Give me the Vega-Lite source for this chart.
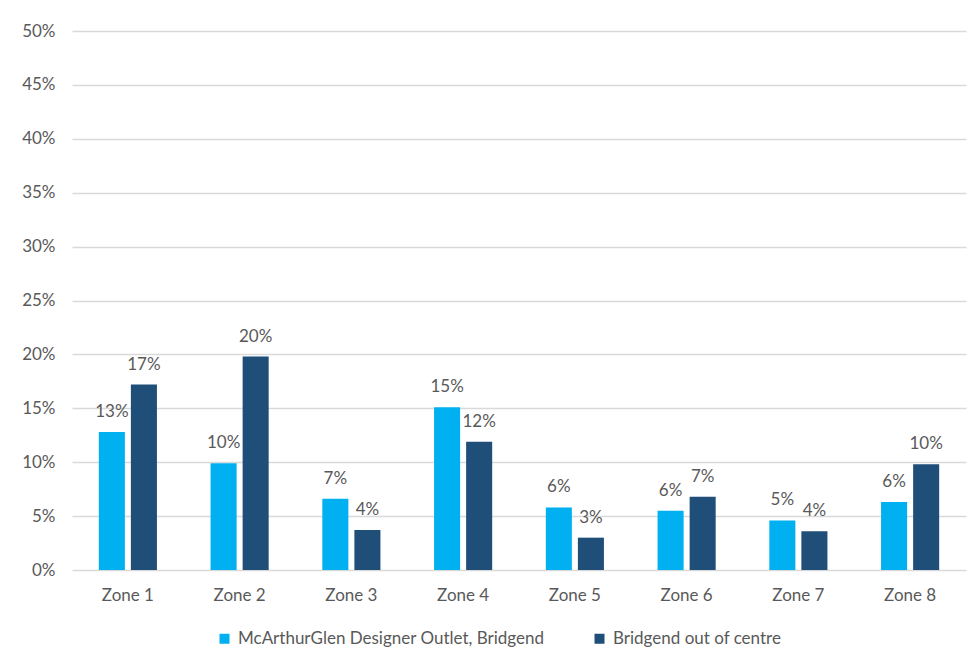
{
  "$schema": "https://vega.github.io/schema/vega-lite/v6.json",
  "autosize": "none",
  "width": 894,
  "height": 539,
  "padding": {"left": 72, "top": 31, "right": 10, "bottom": 93},
  "background": "white",
  "data": {
    "values": [
      {"zone": "Zone 1", "series": "McArthurGlen Designer Outlet, Bridgend", "share": 0.128},
      {"zone": "Zone 1", "series": "Bridgend out of centre", "share": 0.172},
      {"zone": "Zone 2", "series": "McArthurGlen Designer Outlet, Bridgend", "share": 0.099},
      {"zone": "Zone 2", "series": "Bridgend out of centre", "share": 0.198},
      {"zone": "Zone 3", "series": "McArthurGlen Designer Outlet, Bridgend", "share": 0.066},
      {"zone": "Zone 3", "series": "Bridgend out of centre", "share": 0.037},
      {"zone": "Zone 4", "series": "McArthurGlen Designer Outlet, Bridgend", "share": 0.151},
      {"zone": "Zone 4", "series": "Bridgend out of centre", "share": 0.119},
      {"zone": "Zone 5", "series": "McArthurGlen Designer Outlet, Bridgend", "share": 0.058},
      {"zone": "Zone 5", "series": "Bridgend out of centre", "share": 0.030},
      {"zone": "Zone 6", "series": "McArthurGlen Designer Outlet, Bridgend", "share": 0.055},
      {"zone": "Zone 6", "series": "Bridgend out of centre", "share": 0.068},
      {"zone": "Zone 7", "series": "McArthurGlen Designer Outlet, Bridgend", "share": 0.046},
      {"zone": "Zone 7", "series": "Bridgend out of centre", "share": 0.036},
      {"zone": "Zone 8", "series": "McArthurGlen Designer Outlet, Bridgend", "share": 0.063},
      {"zone": "Zone 8", "series": "Bridgend out of centre", "share": 0.098}
    ]
  },
  "encoding": {
    "x": {
      "field": "zone",
      "type": "nominal",
      "sort": null,
      "title": null,
      "scale": {"paddingInner": 0.48, "paddingOuter": 0.24},
      "axis": {
        "labelAngle": 0,
        "domain": false,
        "ticks": false,
        "labelPadding": 17,
        "labelFontSize": 17,
        "labelColor": "#595959",
        "labelFont": "Lato"
      }
    },
    "xOffset": {
      "field": "series",
      "type": "nominal",
      "sort": ["McArthurGlen Designer Outlet, Bridgend", "Bridgend out of centre"],
      "scale": {"paddingInner": 0.1875, "paddingOuter": 0}
    },
    "y": {
      "field": "share",
      "type": "quantitative",
      "title": null,
      "scale": {"domain": [0, 0.5], "nice": false},
      "axis": {
        "values": [0, 0.05, 0.1, 0.15, 0.2, 0.25, 0.3, 0.35, 0.4, 0.45, 0.5],
        "format": ".0%",
        "domain": false,
        "ticks": false,
        "labelPadding": 17,
        "labelFontSize": 17,
        "labelColor": "#595959",
        "labelFont": "Lato",
        "gridColor": "#d9d9d9",
        "gridWidth": 1.3
      }
    }
  },
  "layer": [
    {
      "mark": {"type": "bar"},
      "encoding": {
        "color": {
          "field": "series",
          "type": "nominal",
          "sort": ["McArthurGlen Designer Outlet, Bridgend", "Bridgend out of centre"],
          "scale": {
            "domain": ["McArthurGlen Designer Outlet, Bridgend", "Bridgend out of centre"],
            "range": ["#00B0F0", "#1F4E79"]
          },
          "legend": {
            "title": null,
            "orient": "none",
            "direction": "horizontal",
            "legendX": 144,
            "legendY": 599,
            "symbolType": "square",
            "symbolSize": 100,
            "symbolStrokeWidth": 0,
            "labelFontSize": 17,
            "labelColor": "#595959",
            "labelFont": "Lato",
            "labelLimit": 0,
            "labelOffset": 5,
            "columnPadding": 46
          }
        }
      }
    },
    {
      "mark": {
        "type": "text",
        "baseline": "bottom",
        "dy": -11,
        "fontSize": 17,
        "font": "Lato",
        "color": "#595959"
      },
      "encoding": {
        "text": {"field": "share", "type": "quantitative", "format": ".0%"}
      }
    }
  ],
  "config": {
    "view": {"stroke": null}
  }
}
